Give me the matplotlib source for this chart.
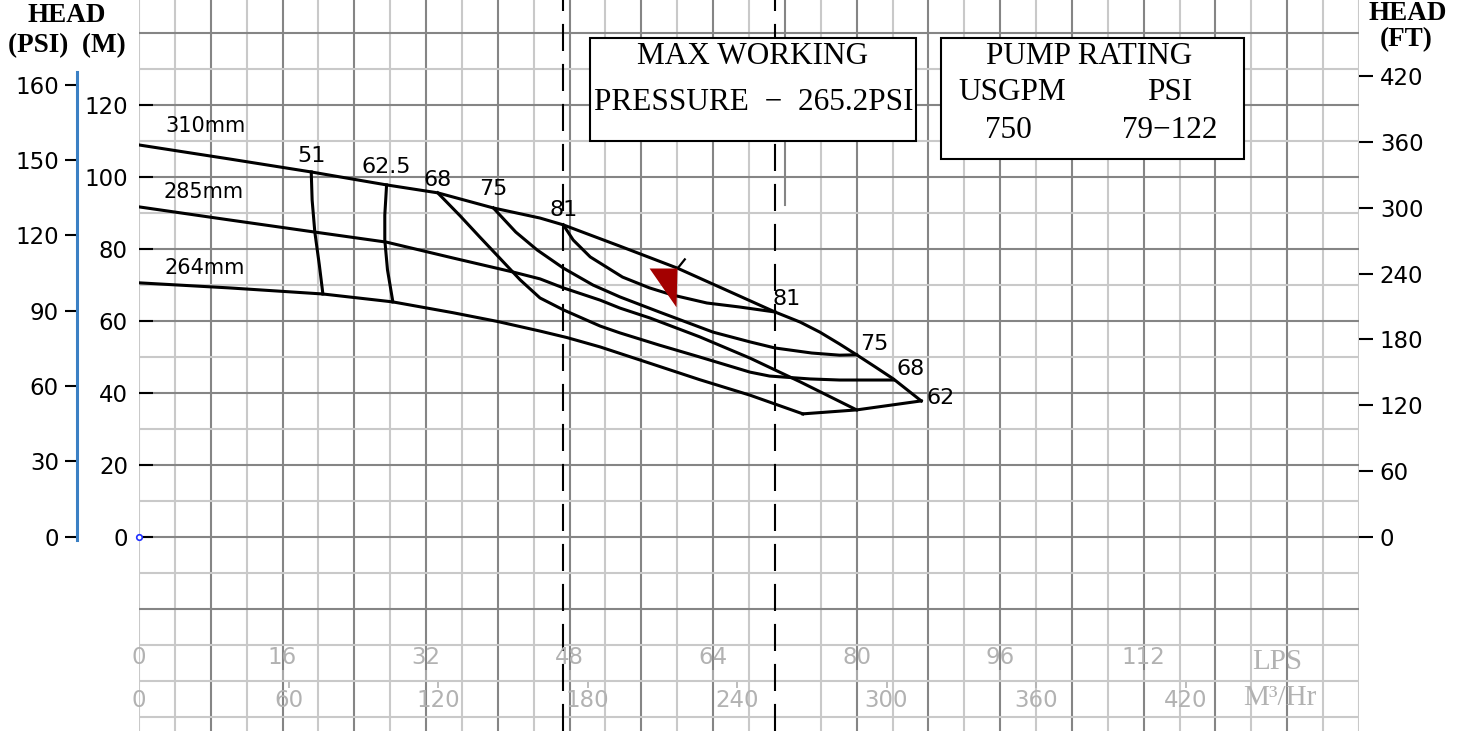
import matplotlib
matplotlib.use("Agg")
import matplotlib.pyplot as plt
from matplotlib.patches import Rectangle
from matplotlib.path import Path

# impeller curves: flow (LPS) vs head (m)
lps_310 = [0, 10.1, 19.2, 27.6, 33.3, 39.5, 44.7, 47.3, 53.6, 60.0, 70.9, 73.7, 75.9, 78.1,
           80.0, 82.1, 84.1, 87.2]
head_310 = [108.9, 105.0, 101.4, 97.8, 95.6, 91.4, 88.6, 86.7, 80.8, 74.7, 62.5, 59.7, 56.9, 53.6,
            50.6, 47.2, 43.9, 37.8]

lps_285 = [0, 10.0, 19.6, 27.6, 35.0, 41.7, 44.7, 47.3, 51.4, 53.6, 57.0, 62.5, 68.1, 73.7, 80.0]
head_285 = [91.7, 88.1, 84.7, 81.9, 77.5, 73.6, 71.7, 69.2, 65.8, 63.6, 60.8, 55.6, 49.7, 43.1, 35.3]

lps_264 = [0, 10.0, 20.5, 28.3, 35.0, 39.9, 44.7, 47.7, 51.4, 56.9, 62.5, 68.1, 74.0]
head_264 = [70.6, 69.2, 67.5, 65.3, 62.3, 59.9, 57.2, 55.4, 52.8, 48.3, 43.7, 39.4, 34.2]

impellers = ["310mm", "285mm", "264mm"]

# iso-efficiency curves
eff_51_lps = [19.2, 19.3, 19.6, 20.1, 20.5]
eff_51_head = [101.4, 93.6, 84.7, 75.6, 67.5]

eff_62_lps = [27.6, 27.4, 27.4, 27.7, 28.3]
eff_62_head = [97.8, 89.4, 82.5, 74.2, 65.3]

eff_68_lps = [33.3, 35.8, 38.0, 40.2, 42.5, 44.7, 47.3, 51.4, 53.6, 58.0, 62.5, 68.1, 70.3,
              74.8, 78.1, 84.1]
eff_68_head = [95.6, 89.2, 83.3, 77.5, 71.4, 66.4, 63.1, 58.6, 56.7, 53.3, 50.0, 45.8, 44.7,
               43.9, 43.6, 43.6]

eff_75_lps = [39.5, 42.0, 44.4, 47.3, 50.6, 53.6, 58.0, 64.0, 68.1, 70.9, 75.0, 78.1, 80.0]
eff_75_head = [91.4, 84.7, 79.7, 74.7, 70.0, 66.7, 62.5, 56.9, 54.2, 52.5, 51.1, 50.5, 50.6]

eff_81_lps = [47.3, 48.4, 50.3, 53.9, 56.9, 59.5, 63.3, 66.9, 70.9]
eff_81_head = [86.7, 82.5, 77.8, 72.2, 69.2, 67.2, 65.0, 63.9, 62.5]

flow_limits = [47.3, 70.9]      # dashed min / max flow lines (LPS)
duty_lps, duty_head = 60.0, 74.7

head_m_ticks = [0, 20, 40, 60, 80, 100, 120]
psi_ticks = [0, 30, 60, 90, 120, 150, 160]
ft_ticks = [0, 60, 120, 180, 240, 300, 360, 420]
lps_ticks = [0, 16, 32, 48, 64, 80, 96, 112]
m3h_ticks = [0, 60, 120, 180, 240, 300, 360, 420]

PSI_TO_M = 0.699
FT_TO_M = 0.3048
LPS_TO_M3H = 3.6

W, H = 1463, 731
DARK = "#858585"
LIGHT = "#c9c9c9"
GREY_TXT = "#b2b2b2"
SERIF = "Liberation Serif"

plt.rcParams["lines.scale_dashes"] = False
plt.rcParams["font.family"] = "DejaVu Sans"

fig = plt.figure(figsize=(W / 100, H / 100), dpi=100)
ax = fig.add_axes([139 / W, 0, 1220 / W, 1])
ax.set_xlim(0, 136)
ax.set_ylim(-53.9, 149.17)
for s in ax.spines.values():
    s.set_visible(False)
ax.set_xticks([])

# chart paper grid
for x in range(0, 137, 4):
    dark = x % 8 == 0 and 0 < x < 136
    ymin = 0.72 if x == 72 else 0
    ax.axvline(x, ymin=ymin, color=DARK if dark else LIGHT, lw=1.5, zorder=0)
for h in range(-50, 150, 10):
    dark = h % 20 == 0 and h >= -20
    ax.axhline(h, color=DARK if dark else LIGHT, lw=1.5, zorder=0)

# head (m) axis on the left
ax.set_yticks(head_m_ticks)
ax.tick_params(axis="y", direction="in", length=10, width=1.5, color="k",
               labelsize=16.5, pad=8)

# head (psi) axis with the blue bar
axp = fig.add_axes([77 / W, 0, 0.0005, 1])
axp.set_ylim(ax.get_ylim())
axp.patch.set_visible(False)
for k, s in axp.spines.items():
    s.set_visible(k == "left")
axp.spines["left"].set_color("#3b80c4")
axp.spines["left"].set_linewidth(2.2)
axp.spines["left"].set_bounds(-0.8, 129.2)
axp.set_xticks([])
psi_pos = [p * PSI_TO_M for p in psi_ticks]
psi_pos[-1] = 125.6  # top label sits at the end of the bar on the original sheet
axp.set_yticks(psi_pos, [str(p) for p in psi_ticks])
axp.tick_params(axis="y", direction="out", length=9, width=1.5, labelsize=16.5, pad=4)

# head (ft) axis on the right
axr = ax.twinx()
axr.set_ylim(ax.get_ylim()[0] / FT_TO_M, ax.get_ylim()[1] / FT_TO_M)
for s in axr.spines.values():
    s.set_visible(False)
axr.set_yticks(ft_ticks)
axr.tick_params(axis="y", direction="out", length=10, width=1.5, labelsize=16.5, pad=5)

# pump curves
curves = [(lps_310, head_310), (lps_285, head_285), (lps_264, head_264)]
for lps, head in curves:
    ax.plot(lps, head, color="k", lw=2.2, zorder=3, solid_joinstyle="round")
ax.plot([c[0][-1] for c in curves[::-1]], [c[1][-1] for c in curves[::-1]],
        color="k", lw=2.2, zorder=3)

label_off = [(18.7, 13.7), (17.3, 10.8), (18.7, 10.8)]
for (lps, head), name, off in zip(curves, impellers, label_off):
    ax.annotate(name, (lps[0], head[0]), xytext=off, textcoords="offset points",
                ha="left", va="center", fontsize=15, zorder=4)

effs = [("51", eff_51_lps, eff_51_head, (0, 11.5), None),
        ("62.5", eff_62_lps, eff_62_head, (0, 13), None),
        ("68", eff_68_lps, eff_68_head, (0, 9.4), (12.2, 8)),
        ("75", eff_75_lps, eff_75_head, (0, 13.7), (13, 8)),
        ("81", eff_81_lps, eff_81_head, (0, 10.8), (8.6, 9.4))]
for name, lps, head, top_off, end_off in effs:
    ax.plot(lps, head, color="k", lw=2.2, zorder=3, solid_joinstyle="round")
    ax.annotate(name, (lps[0], head[0]), xytext=top_off, textcoords="offset points",
                ha="center", va="center", fontsize=16, zorder=4)
    if end_off:
        ax.annotate(name, (lps[-1], head[-1]), xytext=end_off, textcoords="offset points",
                    ha="center", va="center", fontsize=16, zorder=4)
ax.annotate("62", (lps_310[-1], head_310[-1]), xytext=(13.7, 2.2),
            textcoords="offset points", ha="center", va="center", fontsize=16, zorder=4)

# min / max flow lines
for q in flow_limits:
    ax.axvline(q, color="k", lw=1.5, dashes=(19.5, 9.3), zorder=2)

# duty point marker
ax.plot(duty_lps, duty_head, marker=[(-28, 0), (0, 0), (-1, -39)], ms=56,
        color="#a30000", mec="none", zorder=5)
tick = Path([(0, 0), (8, 10)], [Path.MOVETO, Path.LINETO])
ax.plot(duty_lps, duty_head, marker=tick, ms=14.4, mew=1.6, mec="k",
        fillstyle="none", zorder=5)

ax.plot(0, 0, "o", mfc="white", mec="#2030ff", ms=4, mew=1.2, zorder=6, clip_on=False)

# flow scales along the bottom
for v in lps_ticks:
    ax.text(v, -33.6, str(v), ha="center", va="center", color=GREY_TXT, fontsize=16.5, zorder=4)
for v in m3h_ticks:
    ax.text(v / LPS_TO_M3H, -45.3, str(v), ha="center", va="center", color=GREY_TXT,
            fontsize=16.5, zorder=4)
ax.vlines([v / LPS_TO_M3H for v in m3h_ticks[1:]], -41.9, -40.3, color=GREY_TXT, lw=1.2)
ax.vlines(lps_ticks[1:], -39.7, -36.9, color=GREY_TXT, lw=1.2)

fig.text(1277 / W, 1 - 662 / H, "LPS", ha="center", va="center", color=GREY_TXT,
         family=SERIF, fontsize=21)
fig.text(1280 / W, 1 - 698 / H, "M³/Hr", ha="center", va="center", color=GREY_TXT,
         family=SERIF, fontsize=21)

# axis titles
hdr = dict(ha="center", va="center", family=SERIF, weight="bold", fontsize=19.5)
fig.text(67 / W, 1 - 16 / H, "HEAD", **hdr)
fig.text(67 / W, 1 - 46 / H, "(PSI)  (M)", **hdr)
fig.text(1408 / W, 1 - 13 / H, "HEAD", **hdr)
fig.text(1406 / W, 1 - 40 / H, "(FT)", **hdr)

# info boxes
fig.add_artist(Rectangle((590 / W, 1 - 141 / H), 326 / W, 103 / H, transform=fig.transFigure,
                         fc="white", ec="k", lw=1.5, zorder=5))
fig.add_artist(Rectangle((941 / W, 1 - 159 / H), 303 / W, 121 / H, transform=fig.transFigure,
                         fc="white", ec="k", lw=1.5, zorder=5))
box = dict(ha="center", va="center", family=SERIF, fontsize=22.5, zorder=6)
fig.text(753 / W, 1 - 56 / H, "MAX WORKING", **box)
fig.text(754 / W, 1 - 102 / H, "PRESSURE  \u2212  265.2PSI", **box)
fig.text(1089 / W, 1 - 56 / H, "PUMP RATING", **box)
fig.text(1012 / W, 1 - 92 / H, "USGPM", **box)
fig.text(1170 / W, 1 - 92 / H, "PSI", **box)
fig.text(1008 / W, 1 - 131 / H, "750", **box)
fig.text(1170 / W, 1 - 131 / H, "79\u2212122", **box)

fig.savefig("out.png", dpi=100)
